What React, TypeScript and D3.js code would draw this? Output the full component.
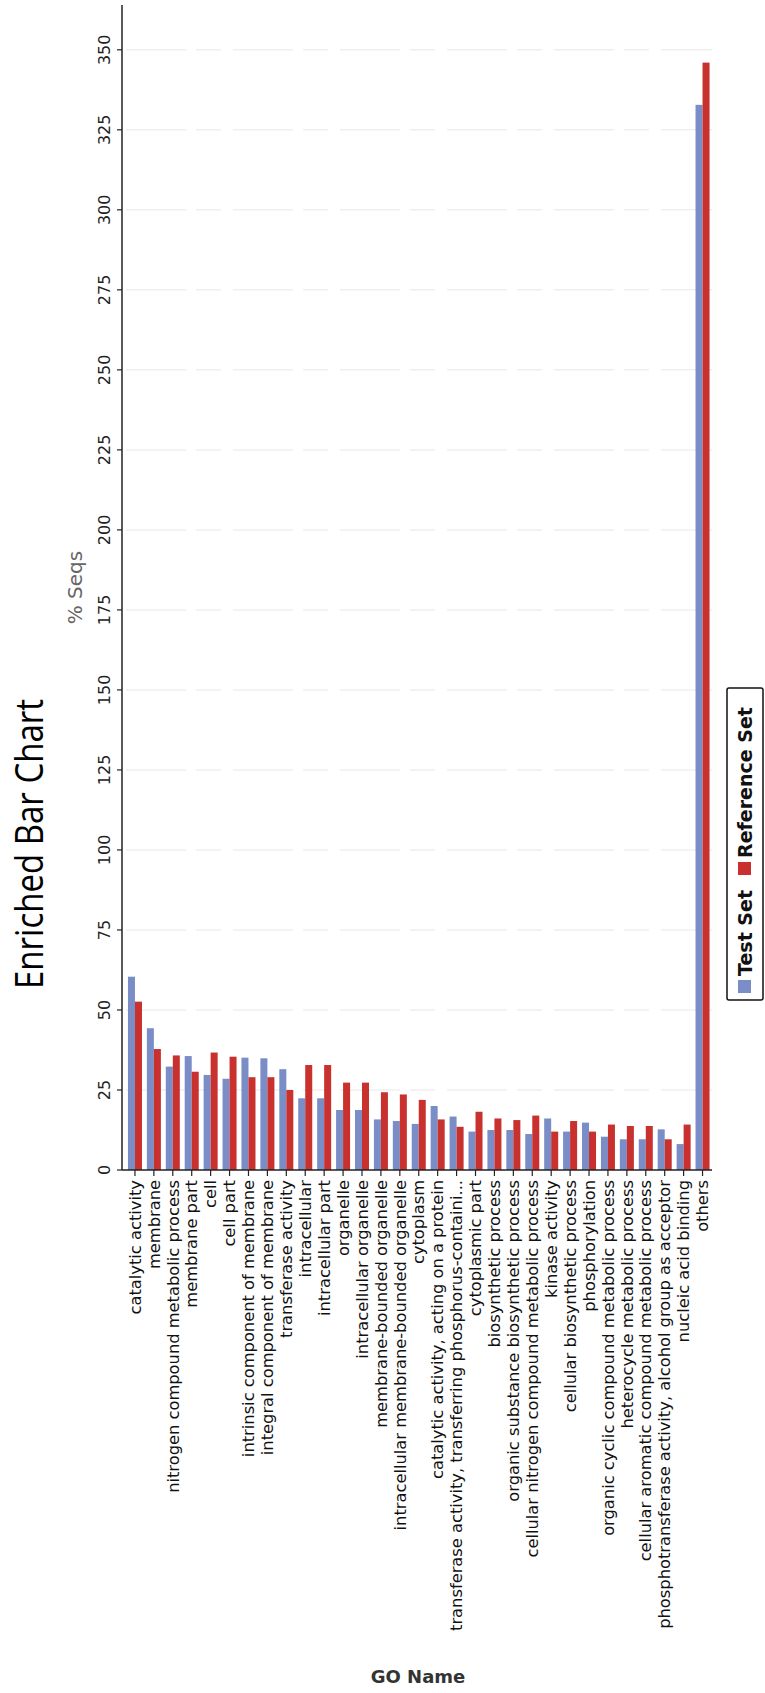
import React from "react";
import * as d3 from "d3";

const categories = [
  "catalytic activity",
  "membrane",
  "nitrogen compound metabolic process",
  "membrane part",
  "cell",
  "cell part",
  "intrinsic component of membrane",
  "integral component of membrane",
  "transferase activity",
  "intracellular",
  "intracellular part",
  "organelle",
  "intracellular organelle",
  "membrane-bounded organelle",
  "intracellular membrane-bounded organelle",
  "cytoplasm",
  "catalytic activity, acting on a protein",
  "transferase activity, transferring phosphorus-containi...",
  "cytoplasmic part",
  "biosynthetic process",
  "organic substance biosynthetic process",
  "cellular nitrogen compound metabolic process",
  "kinase activity",
  "cellular biosynthetic process",
  "phosphorylation",
  "organic cyclic compound metabolic process",
  "heterocycle metabolic process",
  "cellular aromatic compound metabolic process",
  "phosphotransferase activity, alcohol group as acceptor",
  "nucleic acid binding",
  "others",
];

const testSet = [
  60.4, 44.3, 32.3, 35.6, 29.7, 28.5, 35.1, 34.9, 31.5, 22.4, 22.4, 18.75,
  18.75, 15.8, 15.3, 14.4, 20, 16.7, 12, 12.5, 12.5, 11.25, 16.1, 12, 14.8,
  10.4, 9.6, 9.6, 12.7, 8.1, 332.8,
];

const referenceSet = [
  52.6, 37.8, 35.8, 30.7, 36.7, 35.4, 29, 29, 25, 32.8, 32.8, 27.3, 27.3, 24.3,
  23.6, 21.9, 15.8, 13.5, 18.2, 16.1, 15.6, 17, 12, 15.3, 12, 14.2, 13.75,
  13.75, 9.6, 14.2, 346,
];

const seriesNames = ["Test Set", "Reference Set"];
const seriesColors = ["#7a8dc6", "#c8312d"];
const valueTicks = d3.range(0, 351, 25);

const W = 765;
const H = 1693;

export default function App() {
  // Frame coordinates: chart drawn as a horizontal bar chart, then rotated -90deg.
  const x = d3.scaleLinear().domain([0, 364]).range([523, 1688]);
  const y = d3.scaleBand<string>().domain(categories).range([125.5, 712]);
  const ys = d3
    .scaleBand<string>()
    .domain(seriesNames)
    .range([0, y.bandwidth()])
    .paddingOuter(0.35);
  const color = d3.scaleOrdinal<string, string>().domain(seriesNames).range(seriesColors);
  const values = [testSet, referenceSet];
  const axisTop = 122;
  const plotBottom = 712;

  const legendY = 727;
  const legendX = 693;

  return (
    <svg
      width={W}
      height={H}
      style={{ position: "absolute", left: 0, top: 0, background: "#fff" }}
      fontFamily="DejaVu Sans"
    >
      <rect x={0} y={0} width={W} height={H} fill="#fff" />
      <g transform={`translate(0,${H}) rotate(-90)`}>
        {/* title */}
        <text
          x={849}
          y={43}
          textAnchor="middle"
          fontFamily="Open Sans"
          fontSize={38}
          textLength={290}
          lengthAdjust="spacingAndGlyphs"
          fill="#000"
        >
          Enriched Bar Chart
        </text>
        {/* value axis label */}
        <text x={x(182)} y={82} textAnchor="middle" fontSize={20} fill="#666">
          % Seqs
        </text>
        {/* grid */}
        {valueTicks
          .filter((t) => t > 0)
          .map((t) => (
            <line
              key={"g" + t}
              x1={x(t)}
              x2={x(t)}
              y1={axisTop + 4}
              y2={plotBottom}
              stroke="#efefef"
              strokeWidth={1.5}
              strokeDasharray="60 10 25 12"
            />
          ))}
        {/* bars */}
        {categories.map((c, i) => (
          <g key={c} transform={`translate(0,${y(c)})`}>
            {seriesNames.map((s, j) => (
              <rect
                key={s}
                x={x(0)}
                y={ys(s)}
                width={x(values[j][i]) - x(0)}
                height={ys.bandwidth()}
                fill={color(s)}
              />
            ))}
          </g>
        ))}
        {/* value axis */}
        <line x1={x(0)} x2={1688} y1={axisTop} y2={axisTop} stroke="#222" strokeWidth={1.5} />
        {valueTicks.map((t) => (
          <g key={"t" + t}>
            <line x1={x(t)} x2={x(t)} y1={axisTop - 5} y2={axisTop} stroke="#222" strokeWidth={1.2} />
            <text x={x(t)} y={110} textAnchor="middle" fontSize={16} fill="#222">
              {t}
            </text>
          </g>
        ))}
        {/* category axis */}
        <line x1={x(0)} x2={x(0)} y1={axisTop} y2={plotBottom} stroke="#222" strokeWidth={1.5} />
        {categories.map((c) => {
          const cy = (y(c) as number) + y.bandwidth() / 2;
          return (
            <g key={"c" + c}>
              <line x1={x(0) - 6} x2={x(0)} y1={cy} y2={cy} stroke="#222" strokeWidth={1.2} />
              <text x={x(0) - 10} y={cy} dy="0.35em" textAnchor="end" fontSize={16.3} fill="#111">
                {c}
              </text>
            </g>
          );
        })}
        {/* category axis label */}
        <text
          transform={`translate(10,418) rotate(90)`}
          textAnchor="middle"
          fontSize={18}
          fontWeight="bold"
          fill="#333"
        >
          GO Name
        </text>
        {/* legend */}
        <rect
          x={legendX}
          y={legendY}
          width={312}
          height={36}
          rx={2}
          fill="#fff"
          stroke="#111"
          strokeWidth={1.5}
        />
        <rect x={legendX + 7} y={legendY + 11} width={13} height={13} fill={seriesColors[0]} />
        <text x={legendX + 24} y={legendY + 25} fontSize={19} fontWeight="bold" fill="#111">
          {seriesNames[0]}
        </text>
        <rect x={legendX + 125} y={legendY + 11} width={13} height={13} fill={seriesColors[1]} />
        <text x={legendX + 142} y={legendY + 25} fontSize={19} fontWeight="bold" fill="#111">
          {seriesNames[1]}
        </text>
      </g>
    </svg>
  );
}
